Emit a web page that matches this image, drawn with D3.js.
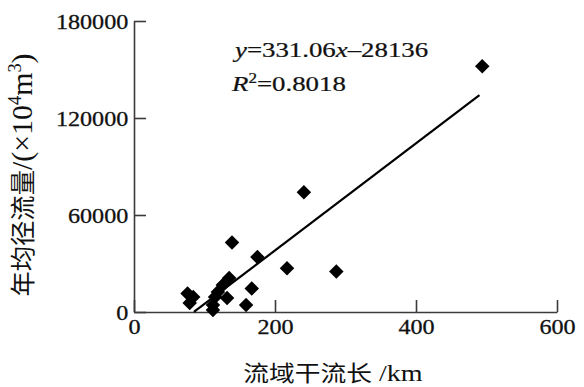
<!DOCTYPE html>
<html>
<head>
<meta charset="utf-8">
<script src="https://cdn.jsdelivr.net/npm/d3@7"></script>
<style>
  html, body { margin: 0; padding: 0; background: #fff; }
  svg { display: block; }
</style>
</head>
<body>
<svg id="chart" width="584" height="387"></svg>
<script>
// ---- data ----
const lengthKm = [494, 241, 139, 175, 217, 287, 135, 167, 159, 76, 84, 79, 126, 119, 115, 132, 112, 112];
const runoff   = [152000, 74000, 43000, 34000, 27000, 25000, 21000, 14500, 4300, 11400, 9300, 5600, 16700, 12400, 9300, 8700, 4300, 1200];
const xTicks = [0, 200, 400, 600];
const yTicks = [0, 60000, 120000, 180000];
const trendSlope = 331.06;
const trendIntercept = -28136;
const trendRange = [85, 490];
const eqText = ["y", "=331.06", "x", "\u201328136"];
const r2Text = "=0.8018";

const svg = d3.select("#chart");
svg.append("rect").attr("width", 584).attr("height", 387).attr("fill", "#fff");

const x = d3.scaleLinear().domain([0, 600]).range([134, 557]);
const y = d3.scaleLinear().domain([0, 180000]).range([312, 21]);

const serif = "'Liberation Serif', 'Times New Roman', serif";
const cjk = "'Noto Sans CJK SC', sans-serif";
const sx = 1.15;
const axisColor = "#3a3a3a";

// x axis
const gx = svg.append("g").attr("transform", `translate(0,${y(0)})`)
  .call(d3.axisBottom(x).tickValues(xTicks).tickSizeInner(-12).tickSizeOuter(0).tickPadding(7).tickFormat(d3.format("d")));
// y axis
const gy = svg.append("g").attr("transform", `translate(${x(0)},0)`)
  .call(d3.axisLeft(y).tickValues(yTicks).tickSizeInner(-12).tickSizeOuter(0).tickPadding(5).tickFormat(d3.format("d")));

[gx, gy].forEach(g => {
  g.select(".domain").attr("stroke", axisColor).attr("stroke-width", 1.6);
  g.selectAll(".tick line").attr("stroke", axisColor).attr("stroke-width", 1.6);
  g.selectAll(".tick text")
    .attr("fill", "#111")
    .attr("stroke", "#111").attr("stroke-width", 0.3)
    .style("font-family", serif)
    .style("font-size", "21px")
    .attr("transform", `scale(${sx},1)`);
});
gx.selectAll(".tick text").attr("dy", "0.72em");
gy.selectAll(".tick text").attr("dy", "0.34em");

// trend line
const trendData = trendRange.map(v => [v, trendSlope * v + trendIntercept]);
svg.append("path")
  .datum(trendData)
  .attr("fill", "none")
  .attr("stroke", "#000")
  .attr("stroke-width", 2.2)
  .attr("d", d3.line().x(d => x(d[0])).y(d => y(d[1])));

// diamond markers
const diamond = {
  draw(ctx, size) {
    const r = Math.sqrt(size / 2);
    ctx.moveTo(0, -r); ctx.lineTo(r, 0); ctx.lineTo(0, r); ctx.lineTo(-r, 0); ctx.closePath();
  }
};
svg.append("g").selectAll("path")
  .data(lengthKm.map((v, i) => [v, runoff[i]]))
  .join("path")
  .attr("transform", d => `translate(${x(d[0])},${y(d[1])})`)
  .attr("d", d3.symbol().type(diamond).size(105))
  .attr("fill", "#000");

// equation text
const eq = svg.append("text")
  .attr("transform", `translate(235,57) scale(1.22,1)`)
  .style("font-family", serif).style("font-size", "22px").attr("fill", "#111")
  .attr("stroke", "#111").attr("stroke-width", 0.25);
eq.append("tspan").style("font-style", "italic").text(eqText[0]);
eq.append("tspan").text(eqText[1]);
eq.append("tspan").style("font-style", "italic").text(eqText[2]);
eq.append("tspan").text(eqText[3]);

const r2 = svg.append("text")
  .attr("transform", `translate(232,91) scale(1.22,1)`)
  .style("font-family", serif).style("font-size", "22px").attr("fill", "#111")
  .attr("stroke", "#111").attr("stroke-width", 0.25);
r2.append("tspan").style("font-style", "italic").text("R");
r2.append("tspan").attr("dy", -8).style("font-size", "14px").text("2");
r2.append("tspan").attr("dy", 8).text(r2Text);

// x title
const xt = svg.append("text")
  .attr("transform", `translate(333,381) scale(1.17,1)`)
  .attr("text-anchor", "middle").attr("fill", "#111");
xt.append("tspan").style("font-family", cjk).style("font-size", "22px").text("流域干流长");
xt.append("tspan").style("font-family", serif).style("font-size", "24px").text(" /km");

// y title
const yt = svg.append("text")
  .attr("transform", `translate(32,175) scale(1.12,1) rotate(-90) scale(1.15,1)`)
  .attr("text-anchor", "middle").attr("fill", "#111");
yt.append("tspan").style("font-family", cjk).style("font-size", "22px").text("年均径流量");
yt.append("tspan").style("font-family", serif).style("font-size", "26px").text("/(×10");
yt.append("tspan").style("font-family", serif).style("font-size", "16px").attr("dy", -10).text("4");
yt.append("tspan").style("font-family", serif).style("font-size", "26px").attr("dy", 10).text("m");
yt.append("tspan").style("font-family", serif).style("font-size", "16px").attr("dy", -10).text("3");
yt.append("tspan").style("font-family", serif).style("font-size", "26px").attr("dy", 10).text(")");
</script>
</body>
</html>
